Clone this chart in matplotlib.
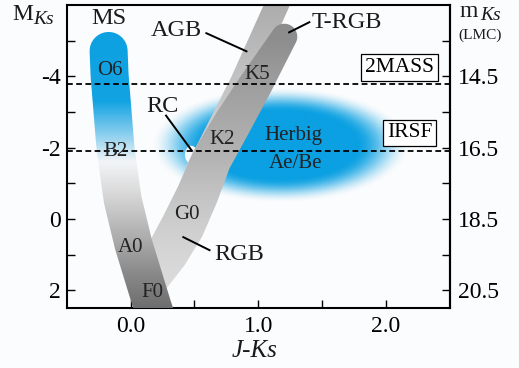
import numpy as np
import matplotlib
matplotlib.use("Agg")
import matplotlib.pyplot as plt
from matplotlib.colors import LinearSegmentedColormap, Normalize, to_rgb
from matplotlib.patches import PathPatch, Ellipse
from matplotlib.path import Path
from matplotlib.ticker import FixedLocator

plt.rcParams["font.family"] = ["Liberation Serif", "DejaVu Serif"]
plt.rcParams["axes.unicode_minus"] = False

# sequence centre lines, top -> bottom (J-Ks, M_Ks)
ms_jk = [-0.172, -0.164, -0.117, -0.062, 0.023, 0.172, 0.211]
ms_mk = [-4.71, -4.01, -1.94, -0.54, 0.72, 2.46, 2.88]

rgb_jk = [1.203, 0.977, 0.805, 0.633, 0.523, 0.406, 0.281, 0.105]
rgb_mk = [-5.11, -3.76, -2.73, -1.66, -0.68, 0.22, 1.00, 1.98]

agb_jk = [1.211, 1.145, 0.871, 0.586, 0.508]
agb_mk = [-6.56, -6.00, -3.82, -1.80, -1.24]

# Herbig Ae/Be region (centre and half extents)
herbig_jk, herbig_mk = 1.17, -2.05
herbig_djk, herbig_dmk = 1.02, 1.62

# survey detection limits
survey_names = ["2MASS", "IRSF"]
survey_limits = [-3.77, -1.91]
survey_label_jk = [2.105, 2.184]
survey_label_mk = [-4.24, -2.41]

dist_mod = 18.5  # LMC

spectral_types = ["O6", "B2", "A0", "F0", "G0", "K2", "K5"]
spectral_jk = [-0.164, -0.117, 0.0, 0.168, 0.441, 0.719, 0.988]
spectral_mk = [-4.16, -1.90, 0.79, 2.06, -0.13, -2.22, -4.06]

seq_names = ["MS", "AGB", "T-RGB", "RC", "RGB"]
seq_label_jk = [-0.172, 0.359, 1.691, 0.25, 0.848]
seq_label_mk = [-5.63, -5.29, -5.51, -3.16, 1.0]
leader_jk = [None, (0.586, 0.914), (1.406, 1.234), (0.273, 0.484), (0.406, 0.625)]
leader_mk = [None, (-5.22, -4.69), (-5.53, -5.22), (-2.92, -1.89), (0.50, 0.89)]

XLIM = (-0.5, 2.5)
YLIM = (2.5, -6.0)
BG = "#fbfcfd"
BLUE = "#0aa0e2"

fig = plt.figure(figsize=(5.19, 3.68), dpi=100, facecolor=BG)
ax = fig.add_axes([66.7 / 519, 60 / 368, 383.3 / 519, 303 / 368], facecolor=BG)
ax.set_xlim(*XLIM)
ax.set_ylim(*YLIM)

ax_w = 383.3
ax_h = 303.0
SX = ax_w / (XLIM[1] - XLIM[0])
SY = ax_h / (YLIM[0] - YLIM[1])


def band_patch(jk, mk, halfw):
    u = np.asarray(jk) * SX
    v = np.asarray(mk) * SY
    p = np.column_stack([u, v])
    t = np.gradient(p, axis=0)
    t /= np.linalg.norm(t, axis=1)[:, None]
    n = np.column_stack([-t[:, 1], t[:, 0]])
    hw = np.broadcast_to(np.asarray(halfw, float), (len(u),))[:, None]
    left = p + n * hw
    right = p - n * hw
    a = np.linspace(0, np.pi, 30)
    cap = p[0] + hw[0] * (np.cos(a)[:, None] * n[0] - np.sin(a)[:, None] * t[0])
    pts = np.vstack([left[::-1], cap, right])
    pts = np.vstack([pts, pts[:1]])
    pts = pts / np.array([SX, SY])
    return PathPatch(Path(pts, closed=True), transform=ax.transData)


def gradient_band(jk, mk, halfw, stops, z):
    lo, hi = -6.6, 3.0
    pos = [(m - lo) / (hi - lo) for m, _ in stops]
    cmap = LinearSegmentedColormap.from_list("b", list(zip(pos, [c for _, c in stops])))
    grid = np.linspace(lo, hi, 500)[:, None] * np.ones((1, 2))
    im = ax.imshow(grid, cmap=cmap, norm=Normalize(lo, hi), extent=[XLIM[0], XLIM[1], hi, lo],
                   aspect="auto", interpolation="bilinear", zorder=z)
    im.set_clip_path(band_patch(jk, mk, halfw))


# Herbig Ae/Be glow
gx = np.linspace(-0.1, 2.5, 400)
gy = np.linspace(-4.0, -0.1, 300)
GX, GY = np.meshgrid(gx, gy)
r = np.sqrt(((GX - herbig_jk) / herbig_djk) ** 2 + ((GY - herbig_mk) / herbig_dmk) ** 2)
tt = np.clip((1.0 - r) / 0.42, 0, 1)
alpha = tt * tt * (3 - 2 * tt)
rgba = np.zeros(GX.shape + (4,))
rgba[..., :3] = to_rgb(BLUE)
rgba[..., 3] = alpha
ax.imshow(rgba, extent=[gx[0], gx[-1], gy[-1], gy[0]], aspect="auto",
          interpolation="bilinear", zorder=1)
ax.add_patch(Ellipse((0.475, -1.8), 0.1, 0.5, facecolor="#f6f9fb", edgecolor="none", zorder=1.5))

# AGB, RGB/T-RGB, MS bands
gradient_band(agb_jk, agb_mk, 12,
              [(-6.6, "#a6a6a6"), (-4.0, "#c2c2c2"), (-1.5, "#d6d6d6"), (3.0, "#dddddd")], 2)
gradient_band(rgb_jk, rgb_mk, [13, 17, 19, 20, 21, 22, 21, 17],
              [(-6.6, "#888888"), (-5.0, "#8e8e8e"), (-3.8, "#9e9e9e"), (-1.7, "#b4b4b4"),
               (-0.5, "#c6c6c6"), (0.8, "#d4d4d4"), (3.0, "#e4e4e4")], 3)
gradient_band(ms_jk, ms_mk, 19,
              [(-6.6, BLUE), (-3.3, "#12a3e2"), (-2.4, "#86cdee"), (-1.6, "#f2f5f7"),
               (-0.8, "#dcdcdc"), (0.6, "#ababab"), (1.6, "#888888"), (3.0, "#606060")], 4)

# survey limits
for m, name, lx, lm in zip(survey_limits, survey_names, survey_label_jk, survey_label_mk):
    ax.axhline(m, color="k", lw=1.3, ls=(0, (3.2, 1.9)), zorder=6)
    ax.text(lx, lm, name, fontsize=15.5, ha="center", va="center", zorder=8,
            bbox=dict(boxstyle="square,pad=0.18", fc="white", ec="k", lw=0.9))

for name, x, m in zip(spectral_types, spectral_jk, spectral_mk):
    ax.text(x, m, name, fontsize=15, ha="center", va="center", color="#222222", zorder=7)

ax.text(1.277, -2.33, "Herbig", fontsize=15, ha="center", va="center", color="#222222", zorder=7)
ax.text(1.29, -1.54, "Ae/Be", fontsize=15, ha="center", va="center", color="#222222", zorder=7)

for name, x, m, lj, lm in zip(seq_names, seq_label_jk, seq_label_mk, leader_jk, leader_mk):
    ax.text(x, m, name, fontsize=17.5, ha="center", va="center", color="#1a1a1a", zorder=8,
            clip_on=False)
    if lj is not None:
        ax.plot(lj, lm, color="k", lw=1.4, zorder=8, solid_capstyle="butt")

# axes
for s in ax.spines.values():
    s.set_linewidth(1.5)
ax.set_xticks([0.0, 1.0, 2.0])
ax.set_xticklabels(["0.0", "1.0", "2.0"])
ax.xaxis.set_minor_locator(FixedLocator([0.5, 1.5]))
ax.set_yticks([-4, -2, 0, 2])
ax.set_yticklabels(["-4", "-2", "0", "2"])
ax.yaxis.set_minor_locator(FixedLocator([-5, -3, -1, 1]))
ax.tick_params(which="both", direction="in", length=6, width=1.0, top=False, right=False)
ax.tick_params(axis="x", labelsize=17, pad=6)
ax.tick_params(axis="y", labelsize=17, pad=4)

sec = ax.secondary_yaxis("right", functions=(lambda m: m + dist_mod, lambda m: m - dist_mod))
sec.set_yticks([14.5, 16.5, 18.5, 20.5])
sec.set_yticklabels(["14.5", "16.5", "18.5", "20.5"])
sec.yaxis.set_minor_locator(FixedLocator([13.5, 15.5, 17.5, 19.5]))
sec.tick_params(which="both", direction="in", length=6, width=1.0, labelsize=17, pad=6)
sec.spines["right"].set_linewidth(1.5)

fig.text(12 / 519, 1 - 20 / 368, "M", fontsize=17, ha="left", va="baseline", color="#1a1a1a")
fig.text(33 / 519, 1 - 24 / 368, "Ks", fontsize=14, style="italic", ha="left", va="baseline",
         color="#1a1a1a")
fig.text(459 / 519, 1 - 17 / 368, "m", fontsize=17, ha="left", va="baseline", color="#1a1a1a")
fig.text(480 / 519, 1 - 20 / 368, "Ks", fontsize=14, style="italic", ha="left", va="baseline",
         color="#1a1a1a")
fig.text(480 / 519, 1 - 35 / 368, "(LMC)", fontsize=11, ha="center", va="center", color="#1a1a1a")
fig.text(255 / 519, 1 - 351 / 368, "J-Ks", fontsize=18, style="italic", ha="center", va="center",
         color="#1a1a1a")

fig.savefig("out.png", dpi=100, facecolor=BG)
